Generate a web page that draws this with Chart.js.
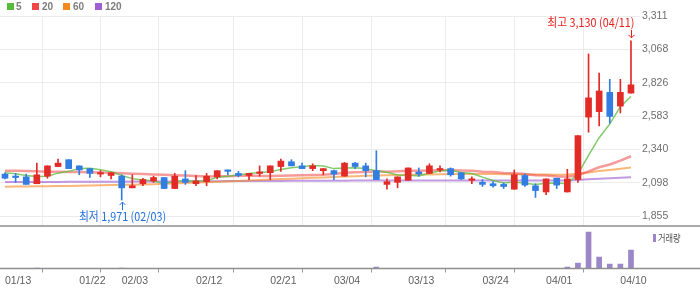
<!DOCTYPE html>
<html>
<head>
<meta charset="utf-8">
<script src="https://cdn.jsdelivr.net/npm/chart.js@4.4.1/dist/chart.umd.min.js"></script>
<style>
html,body{margin:0;padding:0;background:#fff;}
#wrap{position:relative;width:700px;height:289px;overflow:hidden;font-family:"Liberation Sans",Arial,sans-serif;}
#main{position:absolute;left:0;top:0;}
#vol{position:absolute;left:0;top:227px;}
.sq{position:absolute;top:3px;width:7px;height:7px;}
.lt{position:absolute;top:1px;font-weight:bold;font-size:10px;line-height:12px;color:#7d7d7d;}
#vlg{position:absolute;left:653px;top:234px;width:3px;height:8px;background:#9b86c8;}
#vlt{position:absolute;left:658px;top:231px;font-family:"Noto Sans CJK KR",sans-serif;font-size:10px;line-height:13px;color:#555;transform:scaleX(0.82);transform-origin:0 0;white-space:nowrap;}
</style>
</head>
<body>
<div id="wrap">
  <canvas id="main" width="700" height="227"></canvas>
  <canvas id="vol" width="700" height="62"></canvas>
  <div class="sq" style="left:7px;background:#55bb3d"></div><div class="lt" style="left:16px">5</div>
  <div class="sq" style="left:32px;background:#ef4747"></div><div class="lt" style="left:42px">20</div>
  <div class="sq" style="left:63px;background:#f5891f"></div><div class="lt" style="left:73px">60</div>
  <div class="sq" style="left:95px;background:#9f5fd3"></div><div class="lt" style="left:105px">120</div>
  <div id="vlg"></div><div id="vlt">거래량</div>
</div>
<script>
// ---- data ----
const dates = ['01/13','01/14','01/15','01/16','01/17','01/20','01/21','01/22','01/23','01/24',
  '01/31','02/03','02/04','02/05','02/06','02/07','02/10','02/11','02/12','02/13',
  '02/14','02/17','02/18','02/19','02/20','02/21','02/24','02/25','02/26','02/27',
  '02/28','03/04','03/05','03/06','03/07','03/10','03/11','03/12','03/13','03/14',
  '03/17','03/18','03/19','03/20','03/21','03/24','03/25','03/26','03/27','03/28',
  '03/31','04/01','04/02','04/03','04/04','04/07','04/08','04/09','04/10','04/11'];
const open  = [2160,2140,2140,2090,2145,2215,2265,2220,2200,2160,
  2150,2145,2060,2090,2110,2135,2055,2125,2090,2105,
  2140,2190,2165,2150,2165,2170,2215,2250,2220,2200,
  2185,2185,2145,2240,2220,2185,2085,2100,2115,2175,
  2165,2190,2200,2170,2115,2100,2090,2085,2050,2150,
  2075,2030,2130,2030,2120,2575,2615,2755,2655,2750];
const high  = [2170,2165,2160,2240,2220,2270,2265,2220,2200,2185,
  2170,2155,2155,2130,2145,2135,2165,2185,2150,2165,
  2185,2190,2180,2165,2220,2220,2270,2265,2240,2235,
  2200,2190,2245,2245,2240,2330,2125,2140,2205,2205,
  2235,2220,2205,2170,2140,2120,2105,2095,2190,2160,
  2090,2125,2130,2195,2440,3035,2895,2850,2850,3130];
const low   = [2125,2100,2085,2090,2130,2215,2200,2155,2135,2140,
  2125,1971,2060,2075,2100,2055,2055,2085,2075,2075,
  2125,2155,2140,2120,2145,2120,2180,2220,2200,2185,
  2155,2120,2145,2200,2140,2120,2050,2060,2115,2145,
  2165,2175,2145,2120,2090,2070,2065,2055,2050,2070,
  1990,2010,2055,2030,2100,2465,2510,2530,2605,2750];
const close = [2130,2135,2085,2155,2220,2240,2200,2190,2165,2165,
  2170,2060,2075,2120,2135,2055,2145,2100,2110,2145,
  2185,2180,2150,2165,2175,2220,2255,2220,2200,2220,
  2200,2160,2240,2215,2185,2120,2105,2140,2205,2160,
  2220,2200,2155,2125,2125,2085,2075,2070,2155,2080,
  2040,2125,2080,2125,2440,2715,2765,2580,2755,2810];
const volume = [21000,15000,18000,34000,26000,22000,19000,14000,12000,9000,
  11000,30000,17000,12000,10000,15000,18000,13000,9000,14000,
  16000,11000,8000,10000,12000,20000,24000,15000,11000,12000,
  10000,9000,23000,14000,12000,130000,28000,16000,22000,12000,
  15000,10000,9000,11000,8000,10000,9000,8000,26000,14000,
  18000,22000,12000,130000,530000,3630000,1130000,430000,430000,1830000];
const ma5 = [2169,2162,2150,2143,2145,2167,2180,2201,2203,2192,
  2178,2150,2127,2118,2112,2089,2106,2111,2109,2111,
  2137,2144,2154,2165,2171,2178,2193,2207,2214,2223,
  2219,2200,2204,2207,2200,2184,2173,2153,2151,2146,
  2166,2185,2188,2172,2165,2138,2113,2096,2102,2093,
  2084,2094,2096,2090,2162,2297,2425,2525,2651,2725];
const ma20 = [2185,2184,2182,2180,2178,2177,2176,2175,2173,2171,
  2169,2166,2163,2160,2158,2155,2152,2149,2146,2143,
  2144,2145,2148,2149,2147,2146,2148,2150,2152,2154,
  2156,2161,2169,2174,2176,2180,2178,2180,2184,2185,
  2187,2188,2188,2186,2184,2177,2176,2168,2166,2160,
  2152,2150,2143,2140,2152,2180,2210,2230,2258,2290];
const ma60 = [2068,2069,2070,2071,2072,2073,2074,2076,2077,2079,
  2080,2082,2083,2085,2087,2089,2092,2095,2098,2101,
  2104,2107,2110,2113,2117,2120,2124,2127,2130,2133,
  2136,2139,2142,2145,2148,2150,2152,2154,2156,2157,
  2158,2159,2160,2160,2160,2160,2160,2159,2159,2158,
  2157,2157,2156,2157,2163,2172,2182,2190,2199,2208];
const ma120 = [2102,2102,2102,2103,2103,2103,2104,2104,2104,2105,
  2105,2105,2106,2106,2106,2107,2107,2107,2108,2108,
  2108,2109,2109,2109,2110,2110,2110,2111,2111,2111,
  2112,2112,2112,2113,2113,2113,2113,2114,2114,2114,
  2114,2114,2114,2114,2114,2114,2114,2113,2113,2113,
  2113,2113,2113,2113,2117,2122,2127,2130,2134,2138];
const xTickDates = ['01/13','01/22','02/03','02/12','02/21','03/04','03/13','03/24','04/01','04/10'];
const yTickValues = [1855, 2097.67, 2340.33, 2583, 2825.67, 3068.33, 3311];
const yTickLabels = ['1,855','2,098','2,340','2,583','2,826','3,068','3,311'];
const Y_MIN = 1782.2, Y_MAX = 3311;
const VOL_MAX = 4050000;
const X_MIN = -0.471, X_MAX = 59.85;

// ---- styles ----
const UP = '#e22a26', DOWN = '#327de1';
const GRID = '#ececec';
const candleColor = c => (close[c.dataIndex] >= open[c.dataIndex] ? UP : DOWN);
const xTicks = xTickDates.map(d => dates.indexOf(d));

const baseLine = {
  id: 'baseLine',
  afterDraw(chart, args, opts) {
    const {ctx, chartArea} = chart;
    ctx.save();
    ctx.strokeStyle = '#8e8e8e';
    ctx.lineWidth = 1.5;
    ctx.beginPath();
    ctx.moveTo(0, chartArea.bottom);
    ctx.lineTo(chart.width, chartArea.bottom);
    ctx.stroke();
    ctx.restore();
  }
};

function drawScaledText(ctx, t, x, y, align, sx) {
  ctx.save();
  ctx.translate(x, y);
  ctx.scale(sx, 1);
  ctx.textAlign = align;
  ctx.fillText(t, 0, 0);
  ctx.restore();
}

const hiLo = {
  id: 'hiLo',
  afterDatasetsDraw(chart) {
    const {ctx, scales: {x, y}} = chart;
    let hi = 0, lo = 0;
    for (let i = 1; i < high.length; i++) {
      if (high[i] > high[hi]) hi = i;
      if (low[i] < low[lo]) lo = i;
    }
    const fmt = v => v.toLocaleString('en-US');
    ctx.save();
    ctx.font = '12px "Noto Sans CJK KR", sans-serif';
    ctx.textBaseline = 'middle';
    ctx.lineWidth = 1;
    // highest
    let px = Math.round(x.getPixelForValue(hi)) + 0.5;
    let py = y.getPixelForValue(high[hi]);
    ctx.strokeStyle = ctx.fillStyle = '#e8201c';
    ctx.beginPath();
    ctx.moveTo(px, py - 11); ctx.lineTo(px, py - 3);
    ctx.moveTo(px - 3, py - 6); ctx.lineTo(px, py - 3); ctx.lineTo(px + 3, py - 6);
    ctx.stroke();
    drawScaledText(ctx, '최고 ' + fmt(high[hi]) + ' (' + dates[hi] + ')', px + 3, py - 18, 'right', 0.9);
    // lowest
    px = Math.round(x.getPixelForValue(lo)) + 0.5;
    py = y.getPixelForValue(low[lo]);
    ctx.strokeStyle = ctx.fillStyle = '#1f6fdc';
    ctx.beginPath();
    ctx.moveTo(px, py + 10); ctx.lineTo(px, py + 2);
    ctx.moveTo(px - 3, py + 5); ctx.lineTo(px, py + 2); ctx.lineTo(px + 3, py + 5);
    ctx.stroke();
    drawScaledText(ctx, '최저 ' + fmt(low[lo]) + ' (' + dates[lo] + ')', px, py + 16, 'center', 0.9);
    ctx.restore();
  }
};

const xy = arr => arr.map((v, i) => ({x: i, y: v}));
const lineDs = (label, arr, color, w, order) => ({
  type: 'line', label, data: xy(arr), borderColor: color, borderWidth: w,
  pointRadius: 0, fill: false, tension: 0, order, borderJoinStyle: 'round'
});

new Chart(document.getElementById('main'), {
  type: 'bar',
  data: {
    datasets: [
      {label: 'wick', data: low.map((l, i) => ({x: i, y: [l, high[i]]})), backgroundColor: candleColor,
       barThickness: 1, grouped: false, order: 2, minBarLength: 1},
      {label: 'body', data: open.map((o, i) => ({x: i, y: [o, close[i]]})), backgroundColor: candleColor,
       barThickness: 6, grouped: false, order: 1, minBarLength: 1.5},
      lineDs('120', ma120, 'rgba(160,100,212,0.65)', 2, 6),
      lineDs('60', ma60, 'rgba(245,137,31,0.6)', 2, 5),
      lineDs('20', ma20, 'rgba(239,71,71,0.55)', 2.5, 4),
      lineDs('5', ma5, 'rgba(100,190,70,0.8)', 1.5, 3)
    ]
  },
  options: {
    responsive: false, animation: false, events: [],
    layout: {padding: {top: 16, bottom: 1, left: 0, right: 0}},
    plugins: {legend: {display: false}, tooltip: {enabled: false}},
    scales: {
      x: {
        type: 'linear', min: X_MIN, max: X_MAX, offset: false,
        afterBuildTicks: s => { s.ticks = xTicks.map(v => ({value: v})); },
        afterFit: s => { s.height = 0; s.paddingLeft = 0; s.paddingRight = 0; },
        ticks: {display: false},
        grid: {color: GRID, lineWidth: 1, drawTicks: false},
        border: {display: false}
      },
      y: {
        type: 'linear', position: 'right', min: Y_MIN, max: Y_MAX,
        afterBuildTicks: s => { s.ticks = yTickValues.map(v => ({value: v})); },
        afterFit: s => { s.width = 60; s.paddingTop = 0; s.paddingBottom = 0; },
        ticks: {
          padding: 2, color: '#6e6e6e', font: {family: 'Liberation Sans', size: 10.5},
          callback: (v, i) => yTickLabels[i]
        },
        grid: {color: GRID, lineWidth: 1, drawTicks: false},
        border: {display: false}
      }
    }
  },
  plugins: [baseLine, hiLo]
});

new Chart(document.getElementById('vol'), {
  type: 'bar',
  data: {
    datasets: [{label: '거래량', data: xy(volume), backgroundColor: '#9b86c8', barThickness: 5}]
  },
  options: {
    responsive: false, animation: false, events: [],
    layout: {padding: {top: 1, bottom: 0, left: 0, right: 60}},
    plugins: {legend: {display: false}, tooltip: {enabled: false}},
    scales: {
      x: {
        type: 'linear', min: X_MIN, max: X_MAX, offset: false,
        afterBuildTicks: s => { s.ticks = xTicks.map(v => ({value: v})); },
        afterFit: s => { s.height = 20.5; s.paddingLeft = 0; s.paddingRight = 0; },
        ticks: {
          autoSkip: false, maxRotation: 0, minRotation: 0, align: 'start', padding: 2,
          color: '#5e5e5e', font: {family: 'Liberation Sans', size: 10.5},
          callback: v => dates[v]
        },
        grid: {drawOnChartArea: false, drawTicks: true, tickLength: 4, tickColor: '#9a9a9a', lineWidth: 1},
        border: {display: false}
      },
      y: {display: false, min: 0, max: VOL_MAX}
    }
  },
  plugins: [baseLine]
});
</script>
</body>
</html>
